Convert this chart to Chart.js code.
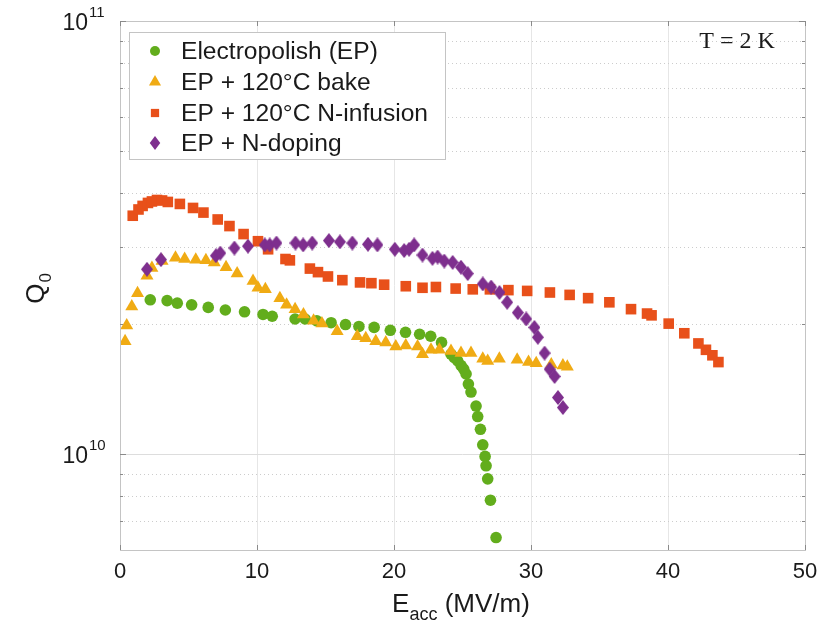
<!DOCTYPE html>
<html>
<head>
<meta charset="utf-8">
<script src="https://cdn.jsdelivr.net/npm/chart.js@4.4.0/dist/chart.umd.min.js"></script>
<style>
  html, body { margin: 0; padding: 0; background: #fff; }
</style>
</head>
<body>
<canvas id="q0Chart" width="818" height="627"></canvas>
<script>
// Q0 values are in units of 1e10
const Q_UNIT = 1e10;

const epX = [2.21, 3.44, 4.18, 5.23, 6.44, 7.69, 9.09, 10.44, 11.11, 12.78, 13.51, 14.37, 15.41, 16.46, 17.44, 18.55, 19.73, 20.84, 21.87, 22.68, 23.47, 24.16, 24.4, 24.65, 24.9, 25.09, 25.26, 25.43, 25.62, 25.99, 26.11, 26.31, 26.48, 26.65, 26.72, 26.84, 27.04, 27.45];
const epQ = [2.27, 2.26, 2.23, 2.21, 2.18, 2.15, 2.13, 2.10, 2.08, 2.05, 2.05, 2.03, 2.01, 1.99, 1.97, 1.96, 1.93, 1.91, 1.89, 1.87, 1.81, 1.70, 1.67, 1.64, 1.60, 1.57, 1.53, 1.45, 1.39, 1.29, 1.22, 1.14, 1.05, 0.987, 0.939, 0.876, 0.782, 0.641];

const bakeX = [0.37, 0.49, 0.86, 1.28, 1.97, 2.33, 3.07, 4.05, 4.72, 5.53, 6.27, 6.88, 7.74, 8.55, 9.71, 10.07, 10.61, 11.67, 12.16, 12.78, 13.39, 14.13, 14.74, 15.85, 17.32, 17.94, 18.67, 19.40, 20.13, 20.86, 21.72, 22.08, 22.70, 23.31, 24.16, 24.89, 25.62, 26.48, 26.84, 27.69, 28.99, 29.82, 30.38, 31.48, 32.33, 32.65];
const bakeQ = [1.82, 1.98, 2.19, 2.35, 2.58, 2.69, 2.79, 2.84, 2.82, 2.81, 2.80, 2.77, 2.70, 2.61, 2.51, 2.42, 2.40, 2.29, 2.21, 2.16, 2.10, 2.03, 2.00, 1.92, 1.87, 1.85, 1.82, 1.81, 1.77, 1.78, 1.77, 1.70, 1.74, 1.74, 1.73, 1.71, 1.71, 1.66, 1.64, 1.66, 1.65, 1.63, 1.62, 1.61, 1.60, 1.59];

const infX = [0.93, 1.35, 1.65, 2.04, 2.33, 2.70, 3.07, 3.49, 4.37, 5.33, 6.09, 7.13, 7.99, 9.02, 10.07, 10.81, 12.08, 12.40, 13.86, 14.45, 15.18, 16.23, 17.52, 18.35, 19.28, 20.86, 22.08, 23.06, 24.50, 25.75, 27.0, 28.35, 29.72, 31.38, 32.82, 34.17, 35.72, 37.3, 38.47, 38.8, 40.05, 41.19, 42.22, 42.77, 43.24, 43.68];
const infQ = [3.55, 3.67, 3.74, 3.80, 3.83, 3.86, 3.85, 3.82, 3.78, 3.70, 3.61, 3.48, 3.36, 3.22, 3.10, 2.97, 2.82, 2.80, 2.68, 2.63, 2.57, 2.52, 2.49, 2.48, 2.46, 2.44, 2.42, 2.43, 2.41, 2.40, 2.40, 2.39, 2.38, 2.36, 2.33, 2.29, 2.24, 2.16, 2.11, 2.09, 2.00, 1.90, 1.80, 1.74, 1.69, 1.63];

const dopX = [1.97, 2.99, 7.0, 7.32, 8.35, 9.34, 10.57, 10.93, 11.42, 12.81, 13.37, 14.03, 15.25, 16.05, 16.96, 18.10, 18.79, 20.06, 20.74, 21.10, 21.47, 22.08, 22.81, 23.18, 23.67, 24.28, 24.89, 25.38, 26.48, 27.09, 27.70, 28.26, 29.04, 29.65, 30.25, 30.50, 30.99, 31.36, 31.72, 31.97, 32.33];
const dopQ = [2.67, 2.81, 2.87, 2.91, 2.99, 3.02, 3.04, 3.04, 3.07, 3.07, 3.04, 3.07, 3.11, 3.09, 3.07, 3.05, 3.04, 2.97, 2.95, 2.97, 3.04, 2.88, 2.83, 2.85, 2.79, 2.77, 2.70, 2.61, 2.47, 2.43, 2.36, 2.24, 2.12, 2.05, 1.96, 1.86, 1.71, 1.57, 1.51, 1.35, 1.28];

const seriesLabels = ['Electropolish (EP)', 'EP + 120°C bake', 'EP + 120°C N-infusion', 'EP + N-doping'];
const seriesColors = ['#62ad1c', '#f0ab14', '#e8501a', '#7e2f8e'];

const xTicks = [0, 10, 20, 30, 40, 50];
const yMajorTicks = [1e10, 1e11];
const yMinorTicks = [7e9, 8e9, 9e9, 2e10, 3e10, 4e10, 5e10, 6e10, 7e10, 8e10, 9e10];
const yTickLabels = [['10', '10'], ['10', '11']];

const FONT = '"Liberation Sans", Arial, sans-serif';

function toPoints(xs, qs) {
  return xs.map((v, i) => ({ x: v, y: qs[i] * Q_UNIT }));
}

// taller-than-wide diamond like matlab's
function diamondImage(color, w, h) {
  const c = document.createElement('canvas');
  c.width = w; c.height = h;
  const g = c.getContext('2d');
  g.fillStyle = color;
  g.beginPath();
  g.moveTo(w / 2, 0); g.lineTo(w, h / 2); g.lineTo(w / 2, h); g.lineTo(0, h / 2);
  g.closePath(); g.fill();
  return c;
}

function drawMarker(ctx, style, cx, cy, r, color) {
  ctx.fillStyle = color;
  ctx.beginPath();
  if (style === 'circle') {
    ctx.arc(cx, cy, r, 0, Math.PI * 2);
  } else if (style === 'triangle') {
    ctx.moveTo(cx, cy - r);
    ctx.lineTo(cx + r * 0.866, cy + r * 0.5);
    ctx.lineTo(cx - r * 0.866, cy + r * 0.5);
  } else if (style === 'rect') {
    ctx.rect(cx - r * 0.75, cy - r * 0.75, r * 1.5, r * 1.5);
  } else {
    ctx.moveTo(cx, cy - r);
    ctx.lineTo(cx + r * 0.75, cy);
    ctx.lineTo(cx, cy + r);
    ctx.lineTo(cx - r * 0.75, cy);
  }
  ctx.closePath();
  ctx.fill();
}

const legendStyles = ['circle', 'triangle', 'rect', 'diamond'];

const axesPlugin = {
  id: 'matlabAxes',
  beforeDatasetsDraw(chart) {
    const { ctx, chartArea: a, scales: { x, y } } = chart;
    ctx.save();
    ctx.lineWidth = 1;
    ctx.strokeStyle = '#e6e6e6';
    xTicks.forEach(v => {
      if (v <= 0 || v >= 50) return;
      const px = Math.round(x.getPixelForValue(v)) + 0.5;
      ctx.beginPath(); ctx.moveTo(px, a.top); ctx.lineTo(px, a.bottom); ctx.stroke();
    });
    ctx.setLineDash([1, 3]);
    ctx.strokeStyle = '#cccccc';
    yMinorTicks.forEach(v => {
      const py = Math.round(y.getPixelForValue(v)) + 0.5;
      ctx.beginPath(); ctx.moveTo(a.left, py); ctx.lineTo(a.right, py); ctx.stroke();
    });
    ctx.setLineDash([]);
    ctx.strokeStyle = '#dddddd';
    const p10 = Math.round(y.getPixelForValue(1e10)) + 0.5;
    ctx.beginPath(); ctx.moveTo(a.left, p10); ctx.lineTo(a.right, p10); ctx.stroke();
    ctx.restore();
  },
  afterDatasetsDraw(chart) {
    const { ctx, chartArea: a, scales: { x, y } } = chart;
    ctx.save();
    // box + inward ticks
    ctx.strokeStyle = '#c4c4c4';
    ctx.lineWidth = 1;
    ctx.strokeRect(Math.round(a.left) + 0.5, Math.round(a.top) + 0.5, Math.round(a.right - a.left), Math.round(a.bottom - a.top));
    ctx.strokeStyle = '#8a8a8a';
    xTicks.forEach(v => {
      const px = Math.round(x.getPixelForValue(v)) + 0.5;
      ctx.beginPath();
      ctx.moveTo(px, a.bottom); ctx.lineTo(px, a.bottom - 5);
      ctx.moveTo(px, a.top); ctx.lineTo(px, a.top + 5);
      ctx.stroke();
    });
    yMajorTicks.concat(yMinorTicks).forEach(v => {
      const len = yMajorTicks.includes(v) ? 6 : 3;
      const py = Math.round(y.getPixelForValue(v)) + 0.5;
      ctx.beginPath();
      ctx.moveTo(a.left, py); ctx.lineTo(a.left + len, py);
      ctx.moveTo(a.right, py); ctx.lineTo(a.right - len, py);
      ctx.stroke();
    });

    // y tick labels 10^n
    ctx.fillStyle = '#1a1a1a';
    ctx.textBaseline = 'middle';
    yMajorTicks.forEach((v, i) => {
      const py = y.getPixelForValue(v);
      ctx.font = '23px ' + FONT;
      ctx.textAlign = 'right';
      ctx.fillText(yTickLabels[i][0], 88, py + 3);
      ctx.font = '15px ' + FONT;
      ctx.textAlign = 'left';
      ctx.fillText(yTickLabels[i][1], 89, py - 8);
    });

    // y title Q_0
    ctx.save();
    ctx.translate(37, 289);
    ctx.rotate(-Math.PI / 2);
    ctx.font = '26px ' + FONT;
    const qW = ctx.measureText('Q').width;
    ctx.font = '17px ' + FONT;
    const zW = ctx.measureText('0').width;
    const start = -(qW + zW) / 2;
    ctx.textAlign = 'left';
    ctx.font = '26px ' + FONT;
    ctx.fillText('Q', start, 0);
    ctx.font = '17px ' + FONT;
    ctx.fillText('0', start + qW + 1, 9);
    ctx.restore();

    // x title E_acc (MV/m)
    ctx.font = '26px ' + FONT;
    const eW = ctx.measureText('E').width;
    const restW = ctx.measureText(' (MV/m)').width;
    ctx.font = '18px ' + FONT;
    const accW = ctx.measureText('acc').width;
    let tx = 461 - (eW + accW + restW) / 2;
    ctx.textAlign = 'left';
    ctx.font = '26px ' + FONT;
    ctx.fillText('E', tx, 605);
    ctx.font = '18px ' + FONT;
    ctx.fillText('acc', tx + eW, 615);
    ctx.font = '26px ' + FONT;
    ctx.fillText(' (MV/m)', tx + eW + accW, 605);

    // annotation
    ctx.font = '24px "Liberation Serif", "Times New Roman", serif';
    ctx.textAlign = 'center';
    ctx.fillText('T = 2 K', 737, 42);

    // legend
    ctx.fillStyle = '#ffffff';
    ctx.fillRect(129.5, 32.5, 316, 127);
    ctx.strokeStyle = '#c4c4c4';
    ctx.strokeRect(129.5, 32.5, 316, 127);
    const rowY = [51, 82, 113, 143];
    const legR = [5, 7, 5.5, 7];
    seriesLabels.forEach((lab, i) => {
      drawMarker(ctx, legendStyles[i], 155, rowY[i], legR[i], seriesColors[i]);
      ctx.fillStyle = '#1a1a1a';
      ctx.font = '24.6px ' + FONT;
      ctx.textAlign = 'left';
      ctx.textBaseline = 'middle';
      ctx.fillText(lab, 181, rowY[i] + 1);
    });
    ctx.restore();
  }
};

const ctx = document.getElementById('q0Chart');
new Chart(ctx, {
  type: 'scatter',
  data: {
    datasets: [
      {
        label: seriesLabels[0],
        data: toPoints(epX, epQ),
        pointStyle: 'circle',
        pointRadius: 5.8,
        backgroundColor: seriesColors[0],
        borderColor: seriesColors[0],
        borderWidth: 0,
        order: 3
      },
      {
        label: seriesLabels[1],
        data: toPoints(bakeX, bakeQ),
        pointStyle: 'triangle',
        pointRadius: 7.5,
        backgroundColor: seriesColors[1],
        borderColor: seriesColors[1],
        borderWidth: 0,
        order: 2
      },
      {
        label: seriesLabels[2],
        data: toPoints(infX, infQ),
        pointStyle: 'rect',
        pointRadius: 7.5,
        backgroundColor: seriesColors[2],
        borderColor: seriesColors[2],
        borderWidth: 0,
        order: 1
      },
      {
        label: seriesLabels[3],
        data: toPoints(dopX, dopQ),
        pointStyle: diamondImage(seriesColors[3], 12, 15),
        pointRadius: 7.5,
        backgroundColor: seriesColors[3],
        borderColor: seriesColors[3],
        borderWidth: 0,
        order: 0
      }
    ]
  },
  options: {
    responsive: false,
    animation: false,
    layout: { padding: { top: 21, right: 13, left: 0, bottom: 0 } },
    plugins: { legend: { display: false }, tooltip: { enabled: false } },
    scales: {
      x: {
        type: 'linear',
        min: 0,
        max: 50,
        afterBuildTicks(scale) { scale.ticks = xTicks.map(v => ({ value: v })); },
        afterFit(scale) {
          scale.height = 77;
          scale.paddingLeft = 0;
          scale.paddingRight = 0;
        },
        grid: { display: false, drawTicks: false },
        border: { display: false },
        ticks: {
          color: '#1a1a1a',
          font: { family: FONT, size: 22 },
          padding: 9,
          maxRotation: 0,
          autoSkip: false
        }
      },
      y: {
        type: 'logarithmic',
        min: 6e9,
        max: 1e11,
        afterFit(scale) { scale.width = 120; },
        grid: { display: false },
        border: { display: false },
        ticks: { display: false }
      }
    }
  },
  plugins: [axesPlugin]
});
</script>
</body>
</html>
